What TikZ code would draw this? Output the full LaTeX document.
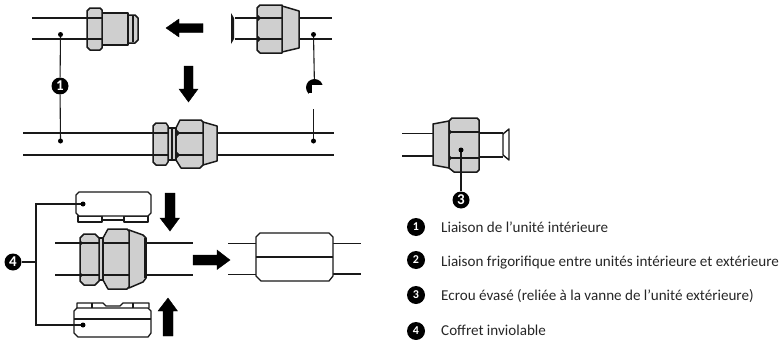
\documentclass[tikz,border=0pt]{standalone}
\usepackage{fontspec}
\setmainfont{Carlito}
\tikzset{
  pipe/.style={line width=1.2pt,black!90},
  fitting/.style={draw=black!90,fill=black!19,line width=1.5pt,line join=round},
  boxline/.style={draw=black!90,fill=white,line width=1.3pt,line join=round},
  edge/.style={line width=1.2pt,black!90},
  blockarrow/.style={fill=black},
  leader/.style={line width=1.1pt,black!90},
  tipdot/.style={circle,fill=black,inner sep=0pt,minimum size=5pt},
  notch/.style={fill=black!90},
  callout/.style={circle,fill=black,text=white,inner sep=0pt,minimum size=17pt,font=\fontsize{15}{15}\selectfont\bfseries},
  keybullet/.style={circle,fill=black,text=white,inner sep=0pt,minimum size=18pt,font=\fontsize{12}{12}\selectfont\bfseries},
  keytext/.style={anchor=base west,inner sep=0pt,font=\fontsize{15.1}{17}\selectfont,text=black!85}
}
\begin{document}
\begin{tikzpicture}[x=1pt,y=-1pt]
  \useasboundingbox (0,0) rectangle (782,340);

  % top left: pipes and male part
  \draw[pipe] (32,18) -- (87,18);
  \draw[pipe] (32,39) -- (87,39);
  \draw[fitting] (128,15) -- (135,15) -- (138,18) -- (138,40) -- (135,43) -- (128,43) -- cycle;
  \draw[pipe] (133,16) -- (133,42);
  \draw[fitting] (102,13) -- (128,13) -- (128,45) -- (102,45) -- cycle;
  \draw[fitting] (90,8) -- (100,8) -- (102,10) -- (102,48) -- (100,50) -- (90,50) -- (87,47) -- (87,11) -- cycle;
  \draw[edge] (87,18) -- (102,18);
  \draw[edge] (87,39) -- (102,39);

  % top right: flared pipe and nut
  \draw[pipe] (235,18) -- (257,18);
  \draw[pipe] (235,39) -- (257,39);
  \draw[pipe] (299,18) -- (332,18);
  \draw[pipe] (299,39) -- (332,39);
  \fill[black!90] (231,13) -- (234,18) -- (234,39) -- (231,44) -- cycle;
  \draw[fitting] (282,6) -- (299,11) -- (299,48) -- (282,52) -- cycle;
  \draw[fitting] (260,5) -- (282,5) -- (282,53) -- (260,53) -- (257,50) -- (257,8) -- cycle;
  \draw[edge] (257,18) -- (282,18);
  \draw[edge] (257,39) -- (282,39);
  \foreach \yy in {18,39}
    \fill[notch] (258,\yy-3) -- (261,\yy) -- (258,\yy+3) -- cycle;

  % arrows of the top row
  \draw[blockarrow] (203,23.5) -- (179,23.5) -- (179,19) -- (166,28) -- (179,37) -- (179,32.5) -- (203,32.5) -- cycle;
  \draw[blockarrow] (184,66) -- (193,66) -- (193,89) -- (198,89) -- (188.5,102) -- (179,89) -- (184,89) -- cycle;

  % joined pipes
  \draw[pipe] (23,133) -- (153,133);
  \draw[pipe] (23,155) -- (153,155);
  \draw[pipe] (217,133) -- (334,133);
  \draw[pipe] (217,155) -- (334,155);
  \draw[fitting] (168,128) -- (176,128) -- (176,160) -- (168,160) -- cycle;
  \draw[pipe] (172,128) -- (172,160);
  \draw[fitting] (203,122) -- (217,126) -- (217,161) -- (203,165) -- cycle;
  \draw[fitting] (180,120) -- (201,120) -- (203,122) -- (203,165) -- (200,168) -- (181,168) -- (176,160) -- (176,128) -- cycle;
  \draw[fitting] (156,123) -- (166,123) -- (168,126) -- (168,162) -- (166,165) -- (156,165) -- (153,162) -- (153,126) -- cycle;
  \draw[edge] (153,133) -- (168,133);
  \draw[edge] (153,155) -- (168,155);
  \draw[edge] (176,133) -- (203,133);
  \draw[edge] (176,155) -- (203,155);
  \foreach \yy in {133,155}
    \fill[notch] (177,\yy-3) -- (180,\yy) -- (177,\yy+3) -- cycle;

  % callouts 1 and 2
  \coordinate (dotA) at (60.5,34.5);
  \coordinate (dotB) at (60.5,141);
  \coordinate (dotC) at (313.5,34.5);
  \coordinate (dotD) at (313.5,141);
  \node[callout] (bubA) at (60,86) {1};
  \draw[leader] (dotA) -- (bubA);
  \draw[leader] (bubA) -- (dotB);
  \node[tipdot] at (dotA) {};
  \node[tipdot] at (dotB) {};
  \node[circle,fill=black,inner sep=0pt,minimum size=17pt] (bubB) at (314.5,87.5) {};
  \draw[leader] (dotC) -- (bubB);
  \fill[white] (311.5,85) rectangle (330,108);
  \fill[white] (309,93) rectangle (312,100);
  \coordinate (stubB) at (313.5,109);
  \draw[leader] (stubB) -- (dotD);
  \node[tipdot] at (dotC) {};
  \node[tipdot] at (dotD) {};

  % lower left: two halves of the box
  \draw[boxline] (78,216) rectangle (102,222);
  \draw[boxline] (124,216) rectangle (148,222);
  \draw[edge] (102,220) -- (124,220);
  \draw[boxline] (79,192) -- (148,192) -- (151,195) -- (151,213) -- (148,216) -- (79,216) -- (76,213) -- (76,195) -- cycle;
  \draw[boxline] (77,308) -- (77,303) -- (103,303) -- (106,306) -- (120,306) -- (123,303) -- (149,303) -- (149,308);
  \draw[edge] (92,303) -- (92,308);
  \draw[edge] (133,303) -- (133,308);
  \draw[boxline] (77,308) -- (148,308) -- (151,311) -- (151,333) -- (148,337) -- (78,337) -- (74,333) -- (74,311) -- cycle;
  \draw[edge] (74,319) -- (151,319);

  % lower left: open fitting
  \draw[pipe] (55,243) -- (80,243);
  \draw[pipe] (55,275) -- (80,275);
  \draw[pipe] (146,243) -- (193,243);
  \draw[pipe] (146,275) -- (193,275);
  \draw[fitting] (99,238) -- (103,238) -- (103,280) -- (99,280) -- cycle;
  \draw[fitting] (129,230) -- (143,235) -- (146,238) -- (146,278) -- (143,282) -- (129,288) -- cycle;
  \draw[line width=2.2pt,black!90] (145.5,238) -- (145.5,278);
  \draw[fitting] (108,229) -- (127,229) -- (129,231) -- (129,287) -- (127,289) -- (108,289) -- (103,280) -- (103,238) -- cycle;
  \draw[fitting] (84,234) -- (95,234) -- (99,238) -- (99,281) -- (95,285) -- (84,285) -- (80,281) -- (80,238) -- cycle;
  \draw[edge] (80,243) -- (99,243);
  \draw[edge] (80,275) -- (99,275);
  \draw[edge] (103,243) -- (129,243);
  \draw[edge] (103,275) -- (129,275);
  \foreach \yy in {243,275}
    \fill[notch] (80,\yy-3) -- (83,\yy) -- (80,\yy+3) -- cycle;

  % arrows of the lower row
  \draw[blockarrow] (165,193) -- (175,193) -- (175,218) -- (179.5,218) -- (170,231) -- (160,218) -- (165,218) -- cycle;
  \draw[blockarrow] (163,336) -- (173,336) -- (173,311) -- (177.5,311) -- (168,298) -- (158,311) -- (163,311) -- cycle;
  \draw[blockarrow] (193,255) -- (217,255) -- (217,250) -- (230,260) -- (217,269.5) -- (217,265) -- (193,265) -- cycle;

  % closed box
  \draw[pipe] (228,243.5) -- (256,243.5);
  \draw[pipe] (228,274.5) -- (256,274.5);
  \draw[pipe] (333,243.5) -- (361,243.5);
  \draw[pipe] (333,274) -- (361,274);
  \draw[boxline] (260,233) -- (329,233) -- (333,237) -- (333,276) -- (329,281) -- (261,281) -- (256,276) -- (256,237) -- cycle;
  \draw[edge] (256,257) -- (333,257);

  % callout 4
  \coordinate (dotE) at (83,204);
  \coordinate (dotF) at (83,325);
  \coordinate (kneeE) at (36,204);
  \coordinate (kneeF) at (36,325);
  \coordinate (kneeG) at (36,262);
  \node[callout] (bubD) at (13,262) {4};
  \draw[leader] (dotE) -- (kneeE) -- (kneeF) -- (dotF);
  \draw[leader] (bubD) -- (kneeG);
  \node[tipdot] at (dotE) {};
  \node[tipdot] at (dotF) {};

  % right: nut alone
  \draw[pipe] (402,133.5) -- (433,133.5);
  \draw[pipe] (402,156) -- (433,156);
  \draw[pipe] (479,133) -- (503,133);
  \draw[pipe] (479,157) -- (503,157);
  \draw[line width=1.4pt,black!90,line join=round] (503,134) -- (509,129) -- (509,160) -- (503,155) -- cycle;
  \draw[fitting] (433,124) -- (449,121) -- (449,168) -- (433,165) -- cycle;
  \draw[fitting] (452,118) -- (477,118) -- (479,120) -- (479,170) -- (477,172) -- (454,172) -- (449,168) -- (449,121) -- cycle;
  \draw[edge] (449,132) -- (479,132);
  \draw[edge] (449,158) -- (479,158);
  \foreach \yy in {132,158}
    \fill[notch] (449,\yy-3) -- (452,\yy) -- (449,\yy+3) -- cycle;

  % callout 3
  \coordinate (dotG) at (461,150);
  \node[callout] (bubC) at (461,200) {3};
  \draw[leader] (dotG) -- (bubC);
  \node[tipdot] at (dotG) {};

  % key
  \node[keybullet] (keyA) at (416,227) {1};
  \node[keybullet] (keyB) at (416,260) {2};
  \node[keybullet] (keyC) at (416,295) {3};
  \node[keybullet] (keyD) at (416,331) {4};
  \node[keytext] (txtA) at (441,232) {Liaison de l’unité intérieure};
  \node[keytext] (txtB) at (441,266) {Liaison frigorifique entre unités intérieure et extérieure};
  \node[keytext] (txtC) at (441,300) {Ecrou évasé (reliée à la vanne de l’unité extérieure)};
  \node[keytext] (txtD) at (441,335) {Coffret inviolable};
\end{tikzpicture}
\end{document}
